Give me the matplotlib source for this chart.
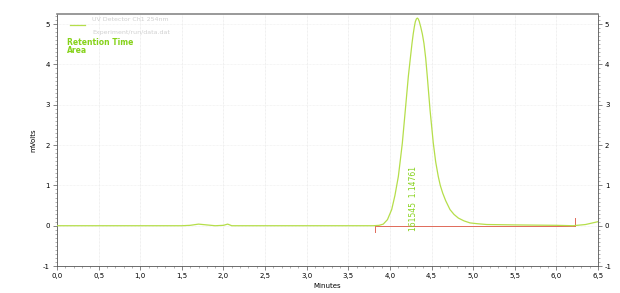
import matplotlib
matplotlib.use("Agg")
import matplotlib.pyplot as plt
from matplotlib.ticker import MultipleLocator, FuncFormatter

# Trace readings (minutes, mVolts)
time_min = [0.0, 0.5, 1.0, 1.5, 1.6, 1.7, 1.8, 1.9, 2.0, 2.05, 2.1, 2.5, 3.0, 3.5, 3.8,
            3.87, 3.92, 3.97, 4.021, 4.06, 4.101, 4.125, 4.149, 4.185, 4.221, 4.245, 4.265,
            4.28, 4.293, 4.305, 4.318, 4.329, 4.34, 4.352, 4.362, 4.37, 4.39, 4.409,
            4.43, 4.449, 4.482, 4.521, 4.55, 4.581, 4.605, 4.634, 4.67, 4.722, 4.77,
            4.822, 4.89, 4.962, 5.05, 5.163, 5.5, 6.0, 6.2, 6.35, 6.5]
signal_mv = [0.0, 0.0, 0.0, 0.0, 0.01, 0.04, 0.02, 0.0, 0.01, 0.04, 0.0, 0.0, 0.0, 0.0, 0.0,
             0.01, 0.04, 0.15, 0.40, 0.75, 1.22, 1.63, 2.05, 2.87, 3.70, 4.15, 4.52,
             4.76, 4.93, 5.06, 5.13, 5.15, 5.13, 5.07, 4.99, 4.93, 4.75, 4.52,
             4.15, 3.70, 2.87, 2.05, 1.58, 1.22, 1.0, 0.81, 0.62, 0.40, 0.28,
             0.19, 0.12, 0.07, 0.05, 0.03, 0.02, 0.01, 0.0, 0.03, 0.10]

# Integration baseline
baseline_t = [3.82, 6.22]
baseline_v = [0.0, 0.0]

peak_area = "161545"
peak_rt = "1.14761"

legend_lines = ["UV Detector Ch1 254nm", "Experiment/run/data.dat"]
legend_labels = ["Retention Time", "Area"]

x_ticks = [0.0, 0.5, 1.0, 1.5, 2.0, 2.5, 3.0, 3.5, 4.0, 4.5, 5.0, 5.5, 6.0, 6.5]
y_ticks = [-1, 0, 1, 2, 3, 4, 5]

trace_color = "#b5de4a"
label_color = "#86d21a"

fig = plt.figure(figsize=(6.2, 2.93), dpi=100)
ax = fig.add_axes([0.092, 0.092, 0.8725, 0.86])

ax.set_xlim(0, 6.5)
ax.set_ylim(-1, 5.25)

# grid
for xt in x_ticks[1:-1]:
    ax.axvline(xt, color="#e2e2e2", lw=0.5, ls=(0, (1, 1)), zorder=0)
for yt in y_ticks[1:]:
    ax.axhline(yt, color="#ececec", lw=0.5, ls=(0, (1, 1)), zorder=0)

ax.plot(time_min, signal_mv, color=trace_color, lw=0.9, zorder=3, solid_joinstyle="round")
ax.plot(baseline_t, baseline_v, color="#e06a5a", lw=0.7, zorder=2)
ax.plot([baseline_t[0], baseline_t[0]], [0, -0.15], color="#e06a5a", lw=0.7)
ax.plot([baseline_t[1], baseline_t[1]], [0, 0.2], color="#e06a5a", lw=0.7)

ax.text(4.285, -0.12, peak_area + "  " + peak_rt, rotation=90, ha="center", va="bottom",
        color=label_color, fontsize=5.5)

# legend block
ax.plot([0.16, 0.33], [4.98, 4.98], color=trace_color, lw=0.9)
ax.text(0.42, 5.12, legend_lines[0], color="#d0d0d0", fontsize=4.5, va="center")
ax.text(0.42, 4.80, legend_lines[1], color="#d0d0d0", fontsize=4.5, va="center")
ax.text(0.12, 4.55, legend_labels[0], color=label_color, fontsize=5.5, fontweight="bold", va="center")
ax.text(0.12, 4.35, legend_labels[1], color=label_color, fontsize=5.5, fontweight="bold", va="center")

ax.set_xticks(x_ticks)
ax.set_yticks(y_ticks)
ax.xaxis.set_minor_locator(MultipleLocator(0.1))
ax.yaxis.set_minor_locator(MultipleLocator(0.1))
ax.xaxis.set_major_formatter(FuncFormatter(lambda v, p: f"{v:.1f}".replace(".", ",")))
ax.yaxis.set_major_formatter(FuncFormatter(lambda v, p: f"{int(round(v))}"))
ax.tick_params(axis="both", which="major", labelsize=5, length=3, width=0.5, color="#555555", pad=2)
ax.tick_params(axis="both", which="minor", length=1.5, width=0.4, color="#777777")
ax.tick_params(axis="y", which="both", left=True, right=True, labelleft=True, labelright=True)

for side in ["left", "right", "bottom"]:
    ax.spines[side].set_color("#555555")
    ax.spines[side].set_linewidth(0.6)
ax.spines["top"].set_color("#888888")
ax.spines["top"].set_linewidth(1.2)

ax.set_xlabel("Minutes", fontsize=5, labelpad=3)
ax.set_ylabel("mVolts", fontsize=5, labelpad=5)

fig.savefig("out.png", dpi=100)
